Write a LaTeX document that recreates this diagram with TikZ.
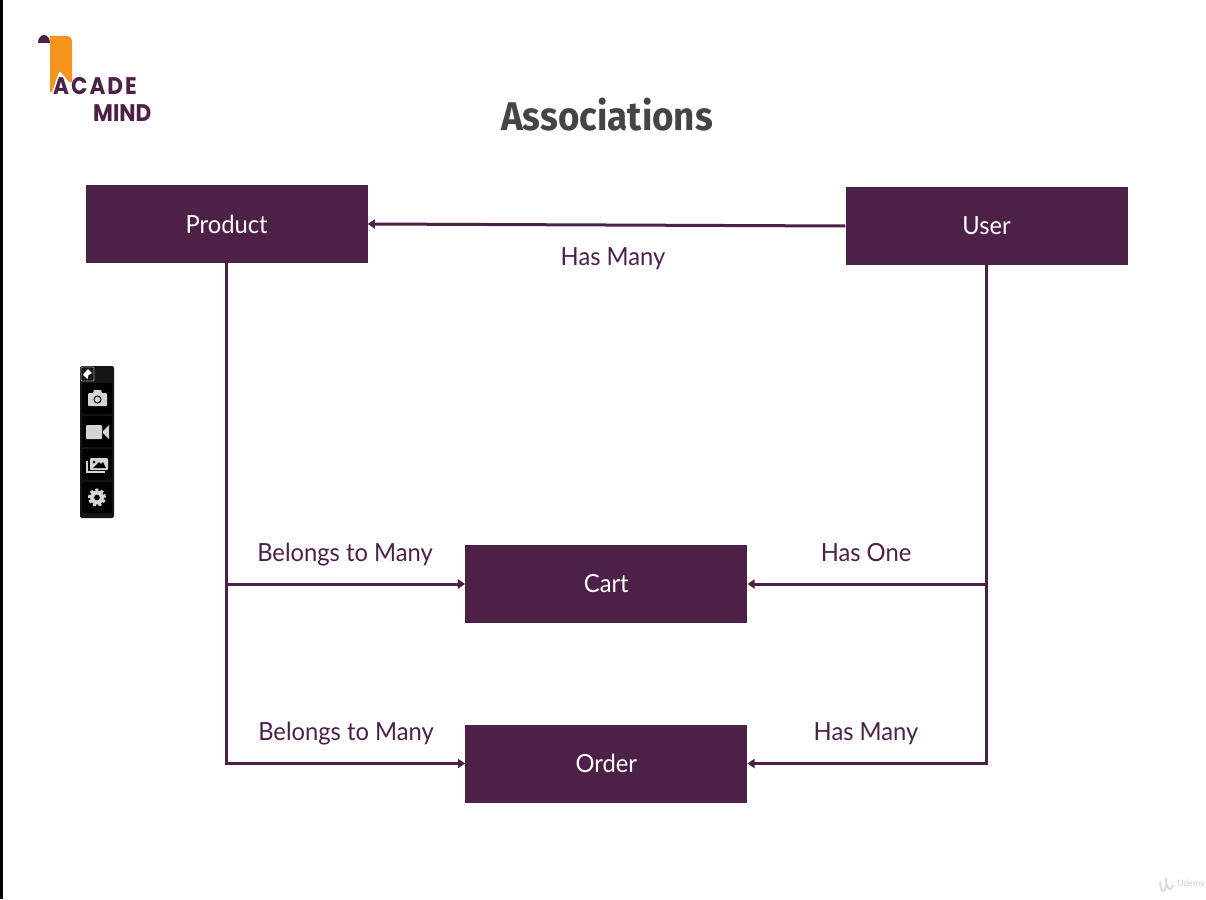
\documentclass[tikz,border=0pt]{standalone}
\usepackage{fontspec}
\setmainfont[FakeStretch=0.95]{Lato}
\newfontfamily\titlefont[FakeStretch=0.92]{Fira Sans}
\newfontfamily\logofont[FakeStretch=0.9]{Poppins}
\usetikzlibrary{arrows.meta}
\definecolor{assocplum}{HTML}{4D2048}
\definecolor{logoorange}{HTML}{F7941E}
\definecolor{titlegray}{HTML}{454545}
\definecolor{iconbar}{HTML}{151515}
\definecolor{icongray}{HTML}{D4D4D4}
\tikzset{
    entity/.style={fill=assocplum, text=white, minimum width=282pt, minimum height=78pt, inner sep=0pt, font=\fontsize{25}{30}\selectfont},
    relation/.style={text=assocplum, inner sep=0pt, font=\fontsize{25}{30}\selectfont},
    link/.style={draw=assocplum, line width=3pt},
    linkarrow/.style={link, -{Triangle[length=7pt,width=9pt]}},
    logotext/.style={text=assocplum, inner sep=0pt, font=\fontsize{24}{28}\selectfont\logofont\bfseries},
    toolbtn/.style={fill=black, rounded corners=1pt}
}
\begin{document}
\begin{tikzpicture}[x=1pt,y=-1pt]
    \useasboundingbox (0,0) rectangle (1206,899);
    \fill[black] (0,0) rectangle (3,899);

    % logo
    \fill[logoorange] (50,36) -- (66,36) .. controls (70,36) and (72,38) .. (72,42) -- (72,82) -- (69,82) -- (61,72) -- (59,72) -- (52,92) -- (50,92) -- cycle;
    \fill[assocplum] (38,43) .. controls (38,38) and (41,35) .. (44,35) .. controls (48,35) and (50,39) .. (50,43) -- cycle;
    \node[logotext, anchor=west] (logoacade) at (53,86) {A\kern2pt C\kern2pt A\kern2pt D\kern2pt E};
    \node[logotext, anchor=west] (logomind) at (93,113) {MIND};

    \node[text=titlegray, font=\fontsize{40}{48}\selectfont\titlefont\bfseries] (title) at (607,115) {Associations};

    % toolbar at the left
    \fill[iconbar, rounded corners=2pt] (80,366) rectangle (114,518);
    \draw[black!45, line width=.8pt, rounded corners=1pt] (81,367) rectangle (94,381);
    \fill[white] (88,369) -- (92,373) -- (88.5,375) -- (87.5,379) -- (83,375) -- (85,372) -- cycle;
    \foreach \y in {383,416,449,482} {
        \fill[toolbtn] (82,\y) rectangle (112,\y+31);
    }
    % camera
    \fill[icongray, rounded corners=1pt] (88,393) rectangle (107,406);
    \fill[icongray] (93,393) -- (94,390) -- (101,390) -- (102,393) -- cycle;
    \draw[black, line width=1pt] (97.5,399.5) circle (3.5pt);
    % video
    \fill[icongray, rounded corners=1pt] (86,425) rectangle (102,439);
    \fill[icongray] (103,431) -- (109,425) -- (109,439) -- (103,433) -- cycle;
    % pictures
    \draw[icongray, line width=1.5pt] (87,461) -- (87,472) -- (105,472);
    \fill[icongray, rounded corners=1pt] (90,458) rectangle (108,470);
    \fill[black] (93,468) -- (99,462) -- (101,464) -- (103,462) -- (106,468) -- cycle;
    \fill[black] (94,462) circle (1.5pt);
    % gear
    \draw[icongray, line width=3pt, dash pattern=on 3pt off 2.2pt] (97,497.5) circle (7.5pt);
    \fill[icongray, even odd rule] (97,497.5) circle (7pt) (97,497.5) circle (3pt);

    % entities
    \node[entity] (product) at (226.6,224) {Product};
    \node[entity] (user) at (986.6,226) {User};
    \node[entity] (cart) at (606.3,584) {Cart};
    \node[entity] (order) at (606.3,763.5) {Order};

    \coordinate (prodcart) at (product.south |- cart.west);
    \coordinate (usercart) at (user.south |- cart.east);

    % connectors
    \draw[linkarrow] (user.west) -- (product.east);
    \draw[linkarrow] (product.south) |- (order.west);
    \draw[linkarrow] (prodcart) -- (cart.west);
    \draw[linkarrow] (user.south) |- (order.east);
    \draw[linkarrow] (usercart) -- (cart.east);

    % labels
    \node[relation] (hasmanytop) at (613,259) {Has Many};
    \node[relation] (belongscart) at (345,555) {Belongs to Many};
    \node[relation] (belongsorder) at (346,734) {Belongs to Many};
    \node[relation] (hasone) at (866,553) {Has One};
    \node[relation] (hasmanyorder) at (866,734) {Has Many};

    % watermark
    \node[text=black!14, inner sep=0pt, font=\fontsize{9}{11}\selectfont\bfseries] (udemy) at (1191,884) {Udemy};
    \draw[black!14, line width=2pt] (1160,882) -- (1161,888) .. controls (1162,892) and (1165,892) .. (1166,887) -- (1166,878);
    \draw[black!14, line width=2pt] (1167,884) .. controls (1168,890) and (1171,891) .. (1173,885);
\end{tikzpicture}
\end{document}
